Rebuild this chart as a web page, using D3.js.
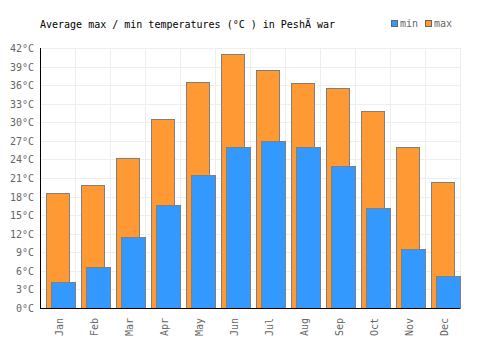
<!DOCTYPE html>
<html>
<head>
<meta charset="utf-8">
<script src="https://cdn.jsdelivr.net/npm/d3@7"></script>
<style>
  body { margin: 0; background: #fff; }
  text { font-family: "DejaVu Sans Mono", monospace; }
</style>
</head>
<body>
<div id="chart"></div>
<script>
const months = ["Jan", "Feb", "Mar", "Apr", "May", "Jun", "Jul", "Aug", "Sep", "Oct", "Nov", "Dec"];
const minTemps = [4.2, 6.6, 11.5, 16.6, 21.5, 26.0, 27.0, 26.0, 22.9, 16.2, 9.6, 5.1];
const maxTemps = [18.5, 19.8, 24.2, 30.5, 36.5, 41.0, 38.4, 36.3, 35.6, 31.8, 26.0, 20.3];
const yTicks = [0, 3, 6, 9, 12, 15, 18, 21, 24, 27, 30, 33, 36, 39, 42];

const width = 500, height = 350;
const margin = { top: 48, right: 40, bottom: 42, left: 40 };

const svg = d3.select('#chart')
    .append('svg')
    .attr('width', width)
    .attr('height', height);

const x = d3.scaleBand()
    .domain(months)
    .range([margin.left, width - margin.right])
    .padding(0);

const y = d3.scaleLinear()
    .domain([0, 42])
    .range([height - margin.bottom, margin.top]);

const bw = x.bandwidth();

// grid
const grid = svg.append('g').attr('stroke', '#eeeeee').attr('stroke-width', 1);
grid.selectAll('line.h')
    .data(yTicks)
    .enter().append('line')
    .attr('x1', margin.left).attr('x2', width - margin.right)
    .attr('y1', d => Math.round(y(d)) + 0.5).attr('y2', d => Math.round(y(d)) + 0.5);
grid.selectAll('line.v')
    .data(months)
    .enter().append('line')
    .attr('x1', d => Math.round(x(d) + bw) + 0.5).attr('x2', d => Math.round(x(d) + bw) + 0.5)
    .attr('y1', margin.top).attr('y2', height - margin.bottom);

// bars: max behind, min in front
svg.append('g').selectAll('rect')
    .data(maxTemps)
    .enter().append('rect')
    .attr('x', (d, i) => Math.round(x(months[i]) + bw * 0.17) + 0.5)
    .attr('width', Math.round(bw * 0.66))
    .attr('y', d => Math.round(y(d)) + 0.5)
    .attr('height', d => y(0) - Math.round(y(d)))
    .attr('fill', '#ff9933')
    .attr('stroke', '#808080')
    .attr('stroke-width', 1);

svg.append('g').selectAll('rect')
    .data(minTemps)
    .enter().append('rect')
    .attr('x', (d, i) => Math.round(x(months[i]) + bw * 0.31) + 0.5)
    .attr('width', Math.round(bw * 0.69))
    .attr('y', d => Math.round(y(d)) + 0.5)
    .attr('height', d => y(0) - Math.round(y(d)))
    .attr('fill', '#3399ff')
    .attr('stroke', '#808080')
    .attr('stroke-width', 1);

// axes
svg.append('line')
    .attr('x1', margin.left + 0.5).attr('x2', margin.left + 0.5)
    .attr('y1', margin.top).attr('y2', y(0) + 1)
    .attr('stroke', '#000');
svg.append('line')
    .attr('x1', margin.left).attr('x2', width - margin.right)
    .attr('y1', y(0) + 0.5).attr('y2', y(0) + 0.5)
    .attr('stroke', '#000');

svg.append('g').selectAll('text')
    .data(yTicks)
    .enter().append('text')
    .attr('x', margin.left - 6)
    .attr('y', d => y(d) + 4)
    .attr('text-anchor', 'end')
    .attr('font-size', 10)
    .attr('fill', '#666')
    .text(d => d + '°C');

svg.append('g').selectAll('text')
    .data(months)
    .enter().append('text')
    .attr('transform', d => `translate(${x(d) + bw / 2 + 5}, ${y(0) + 10}) rotate(-90)`)
    .attr('text-anchor', 'end')
    .attr('font-size', 10)
    .attr('fill', '#666')
    .text(d => d);

// title
svg.append('text')
    .attr('x', margin.left)
    .attr('y', 28)
    .attr('font-size', 10)
    .attr('fill', '#000')
    .text('Average max / min temperatures (°C ) in PeshÄ war');

// legend
const legendItems = [{ name: 'min', color: '#3399ff' }, { name: 'max', color: '#ff9933' }];
const legend = svg.append('g')
    .selectAll('g')
    .data(legendItems)
    .enter().append('g')
    .attr('transform', (d, i) => `translate(${391 + i * 34}, 20)`);
legend.append('rect')
    .attr('x', 0.5).attr('y', 0.5)
    .attr('width', 6).attr('height', 6)
    .attr('fill', d => d.color)
    .attr('stroke', '#666');
legend.append('text')
    .attr('x', 9)
    .attr('y', 7)
    .attr('font-size', 10)
    .attr('fill', '#666')
    .text(d => d.name);
</script>
</body>
</html>
